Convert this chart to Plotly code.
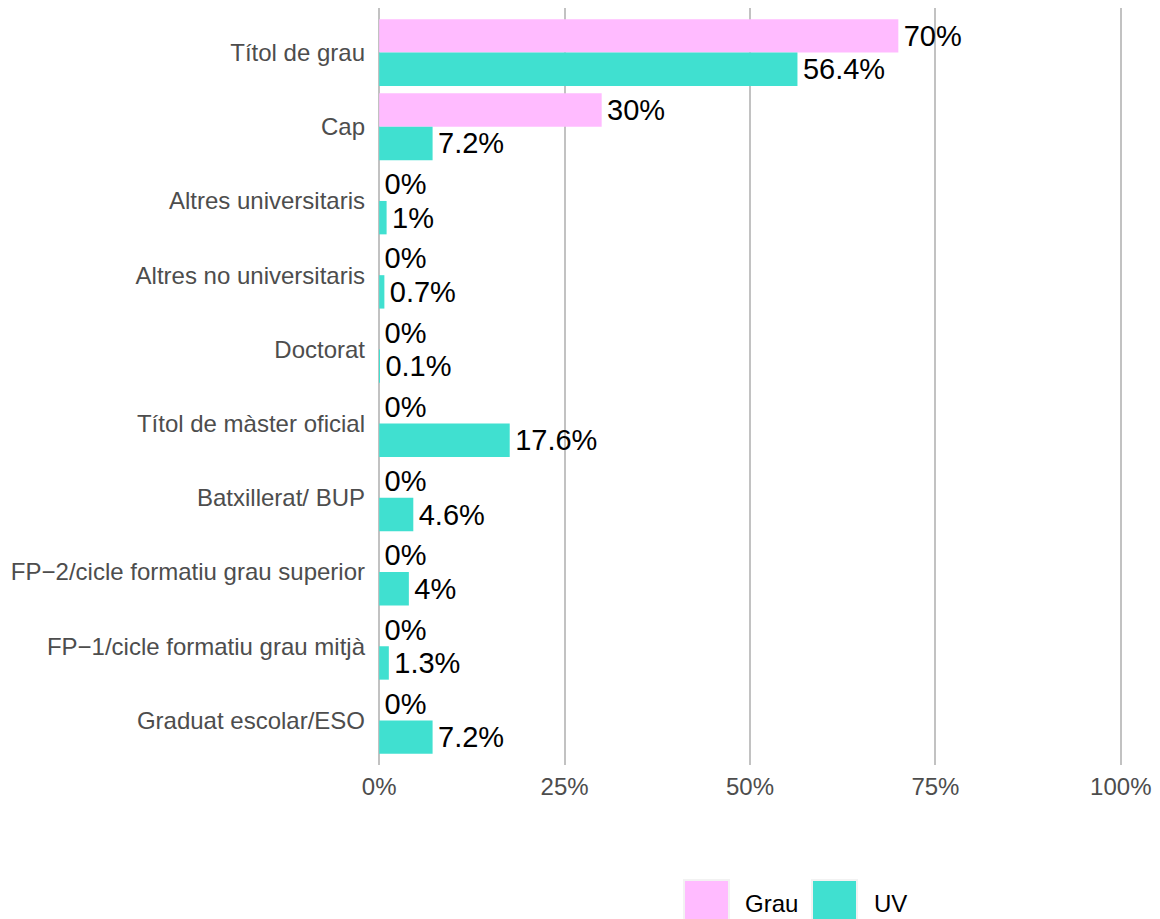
import plotly.graph_objects as go

categories = [
    "Títol de grau",
    "Cap",
    "Altres universitaris",
    "Altres no universitaris",
    "Doctorat",
    "Títol de màster oficial",
    "Batxillerat/ BUP",
    "FP\u22122/cicle formatiu grau superior",
    "FP\u22121/cicle formatiu grau mitjà",
    "Graduat escolar/ESO",
]
grau = [70, 30, 0, 0, 0, 0, 0, 0, 0, 0]
uv = [56.4, 7.2, 1, 0.7, 0.1, 17.6, 4.6, 4, 1.3, 7.2]
series_names = ["Grau", "UV"]
x_ticks = [0, 25, 50, 75, 100]
x_ticklabels = ["0%", "25%", "50%", "75%", "100%"]

PINK = "#FFBBFF"
TEAL = "#40E0D0"
FONT = "Liberation Sans, Arial, sans-serif"

OFF = 8  # page body margin
W, H = 1152, 911
# plot area in page pixels: x 374..1126, y 8..765
ML = 374 - OFF
MR = W - (1126 - OFF)
MT = 8 - OFF
MB = H - (765 - OFF)

fig = go.Figure()
for name, vals, col in [(series_names[0], grau, PINK), (series_names[1], uv, TEAL)]:
    fig.add_trace(go.Bar(
        y=categories, x=vals, name=name, orientation="h",
        marker=dict(color=col, line=dict(width=0)),
        text=[f"\u200a{v:g}%" for v in vals], textposition="outside",
        textfont=dict(size=29, color="black", family=FONT),
        constraintext="none", cliponaxis=False, showlegend=False,
    ))

fig.update_layout(
    width=W, height=H, autosize=False,
    margin=dict(l=ML, r=MR, t=MT, b=MB, pad=0),
    barmode="group", bargap=0.1, bargroupgap=0,
    plot_bgcolor="white", paper_bgcolor="white",
    font=dict(family=FONT),
)
fig.update_xaxes(
    range=[-0.7, 100.7], tickvals=x_ticks, ticktext=x_ticklabels,
    showgrid=True, gridcolor="#C2C2C2", gridwidth=2.2, zeroline=False,
    showline=False, ticks="", tickfont=dict(size=24, color="#4D4D4D"),
    ticklabelstandoff=5,
)
fig.update_yaxes(
    type="category", categoryorder="array", categoryarray=categories,
    range=[9.6, -0.6], showgrid=False, zeroline=False, showline=False,
    ticks="", tickfont=dict(size=24, color="#4D4D4D"), ticklabelstandoff=8,
)

# Legend drawn manually (large keys), positions in page pixels
pw = W - ML - MR
ph = H - MT - MB
def px_x(p):
    return (p - OFF - ML) / pw
def px_y(p):
    return (H - MB - (p - OFF)) / ph

legend_items = [
    (series_names[0], PINK, 683, 743),
    (series_names[1], TEAL, 811, 872),
]
for name, col, kx, tx in legend_items:
    fig.add_shape(type="rect", xref="paper", yref="paper",
                  x0=px_x(kx), x1=px_x(kx + 47), y0=px_y(926), y1=px_y(879),
                  fillcolor="#F2F2F2", line=dict(width=0), layer="above")
    fig.add_shape(type="rect", xref="paper", yref="paper",
                  x0=px_x(kx + 2), x1=px_x(kx + 45), y0=px_y(924), y1=px_y(881),
                  fillcolor=col, line=dict(width=0), layer="above")
    fig.add_annotation(text=name, xref="paper", yref="paper",
                       x=px_x(tx), y=px_y(903), xanchor="left", yanchor="middle",
                       showarrow=False, font=dict(size=24, color="black", family=FONT))

fig.write_html("out.html")
